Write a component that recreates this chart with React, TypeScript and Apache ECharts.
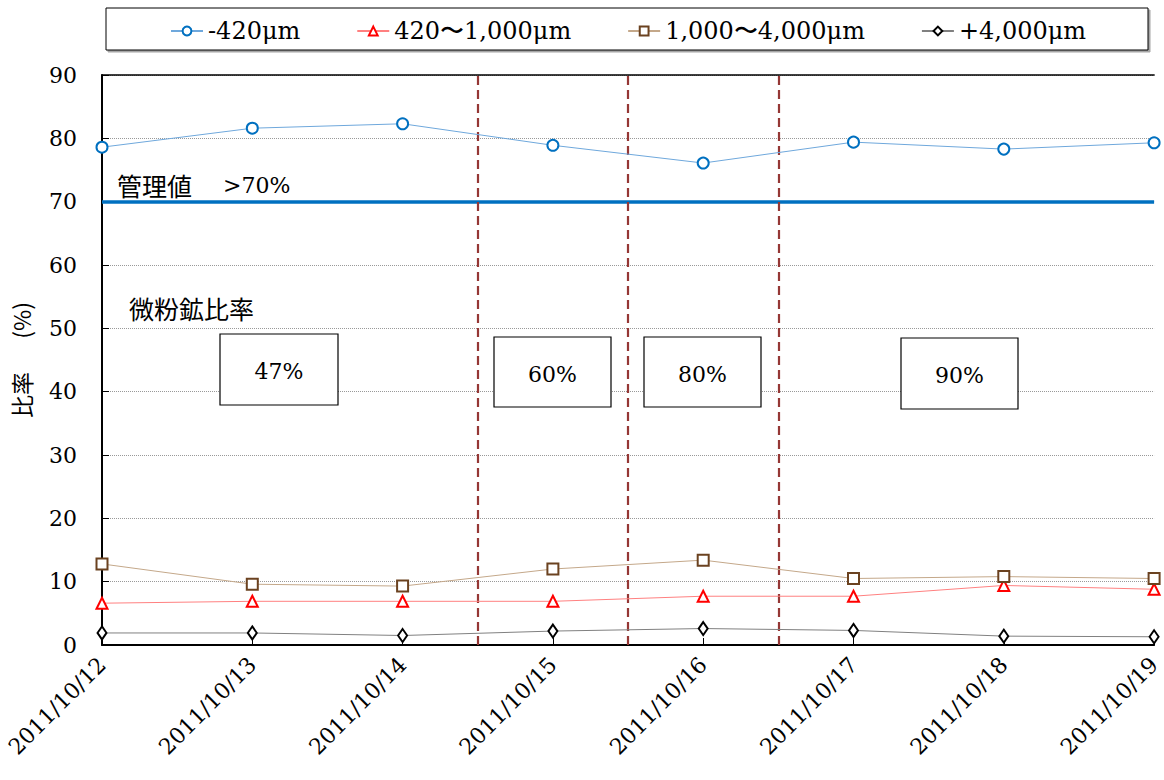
import React, { useEffect, useRef } from "react";
import * as echarts from "echarts";

const categories = [
  "2011/10/12", "2011/10/13", "2011/10/14", "2011/10/15",
  "2011/10/16", "2011/10/17", "2011/10/18", "2011/10/19",
];
const seriesNames = ["-420μm", "420〜1,000μm", "1,000〜4,000μm", "+4,000μm"];
const fine = [78.6, 81.6, 82.3, 78.9, 76.1, 79.4, 78.3, 79.3];
const mid = [6.6, 6.9, 6.9, 6.9, 7.7, 7.7, 9.4, 8.8];
const coarse = [12.8, 9.6, 9.3, 12.0, 13.4, 10.5, 10.8, 10.5];
const large = [1.9, 1.9, 1.5, 2.2, 2.6, 2.3, 1.4, 1.3];
const controlValue = 70;
const periodBounds = [2.5, 3.5, 4.5];
const periodLabels = ["47%", "60%", "80%", "90%"];
const controlName = "管理値";
const controlThreshold = ">70%";
const ratioLabel = "微粉鉱比率";
const yName = "比率　  (%)";

const SERIF = "'DejaVu Serif', 'Liberation Serif', serif";
const CJK = "'Noto Sans CJK JP', 'Noto Sans', sans-serif";

const toPairs = (arr: number[]) => arr.map((v, i) => [i, v]);

export default function App() {
  const ref = useRef<HTMLDivElement>(null);
  useEffect(() => {
    if (!ref.current) return;
    const chart = echarts.init(ref.current, null, { renderer: "svg" });
    const boxes = [
      { x: 220, y: 334, w: 118, h: 71 },
      { x: 494, y: 337, w: 117, h: 70 },
      { x: 644, y: 337, w: 117, h: 70 },
      { x: 901, y: 338, w: 117, h: 71 },
    ];
    const graphics: any[] = [
      {
        type: "rect",
        shape: { x: 106, y: 8, width: 1042, height: 42 },
        style: { fill: "#fff", stroke: "#000", lineWidth: 1, shadowBlur: 0, shadowOffsetX: 2, shadowOffsetY: 2, shadowColor: "rgba(0,0,0,0.35)" },
        z: -1,
      },
      {
        type: "text",
        x: 117, y: 185,
        style: {
          text: `{a|${controlName}}{b|${controlThreshold}}`,
          verticalAlign: "middle",
          rich: {
            a: { fontFamily: CJK, fontSize: 25, fill: "#000", color: "#000", width: 106 },
            b: { fontFamily: SERIF, fontSize: 22, fill: "#000", color: "#000" },
          },
        },
        z: 10,
      },
      {
        type: "text",
        x: 129, y: 308,
        style: { text: ratioLabel, font: `25px ${CJK}`, fill: "#000", verticalAlign: "middle" },
        z: 10,
      },
    ];
    boxes.forEach((b, i) => {
      graphics.push({
        type: "rect",
        shape: { x: b.x, y: b.y, width: b.w, height: b.h },
        style: { fill: "#fff", stroke: "#000", lineWidth: 1.2 },
        z: 10,
      });
      graphics.push({
        type: "text",
        x: b.x + b.w / 2, y: b.y + b.h / 2 + 2,
        style: { text: periodLabels[i], font: `22px ${SERIF}`, fill: "#000", align: "center", verticalAlign: "middle" },
        z: 11,
      });
    });

    const lineSeries = (name: string, data: number[], symbol: string, size: any, lineColor: string, markColor: string, extra: any = {}) => ({
      type: "line",
      name,
      data: toPairs(data),
      symbol,
      symbolSize: size,
      showAllSymbol: true,
      lineStyle: { color: lineColor, width: 1 },
      itemStyle: { color: markColor, borderColor: markColor, borderWidth: 1.2 },
      z: 5,
      ...extra,
    });

    chart.setOption({
      animation: false,
      backgroundColor: "#fff",
      graphic: graphics,
      legend: {
        top: 14,
        left: 165,
        itemGap: 56,
        itemWidth: 32,
        itemHeight: 11,
        textStyle: { fontFamily: SERIF, fontSize: 24, color: "#000" },
        data: seriesNames,
      },
      grid: { left: 102, right: 7, top: 75, bottom: 135 },
      xAxis: [
        {
          type: "value",
          min: 0,
          max: 7,
          interval: 1,
          axisLine: { show: true, lineStyle: { color: "#000", width: 2 } },
          axisTick: { show: true, inside: true, length: 7, lineStyle: { color: "#000" } },
          splitLine: { show: false },
          axisLabel: {
            formatter: (v: number) => categories[v] ?? "",
            rotate: 45,
            margin: 16,
            fontFamily: SERIF,
            fontSize: 22,
            color: "#000",
          },
        },
        {
          type: "value",
          position: "top",
          min: 0,
          max: 7,
          axisLine: { show: true, lineStyle: { color: "#000", width: 1.5 } },
          axisTick: { show: false },
          axisLabel: { show: false },
          splitLine: { show: false },
        },
      ],
      yAxis: {
        type: "value",
        min: 0,
        max: 90,
        interval: 10,
        name: yName,
        nameLocation: "middle",
        nameGap: 70,
        nameTextStyle: { fontFamily: CJK, fontSize: 23, color: "#000" },
        axisLine: { show: true, lineStyle: { color: "#000", width: 2 } },
        axisTick: { show: true, inside: true, length: 7, lineStyle: { color: "#000" } },
        axisLabel: { fontFamily: SERIF, fontSize: 22, color: "#000", margin: 25 },
        splitLine: { show: true, lineStyle: { color: "#999", type: "dotted", width: 1 } },
      },
      series: [
        lineSeries(seriesNames[0], fine, "emptyCircle", 11, "#6FA8DC", "#0070C0", {
          markLine: {
            silent: true,
            symbol: "none",
            label: { show: false },
            data: [
              { yAxis: controlValue, lineStyle: { color: "#0070C0", width: 3.5, type: "solid" } },
              ...periodBounds.map((b) => ({ xAxis: b, lineStyle: { color: "#953735", width: 2.2, type: [9, 5] } })),
            ],
            z: 3,
          },
        }),
        lineSeries(seriesNames[1], mid, "emptyTriangle", 11, "#FF8080", "#FF0000"),
        lineSeries(seriesNames[2], coarse, "emptyRect", 11, "#C4A88A", "#6B4220"),
        lineSeries(seriesNames[3], large, "emptyDiamond", [9, 13], "#808080", "#000000"),
      ],
    });
    return () => chart.dispose();
  }, []);
  return (
    <div
      ref={ref}
      style={{ position: "absolute", left: 0, top: 0, width: 1164, height: 780 }}
    />
  );
}
